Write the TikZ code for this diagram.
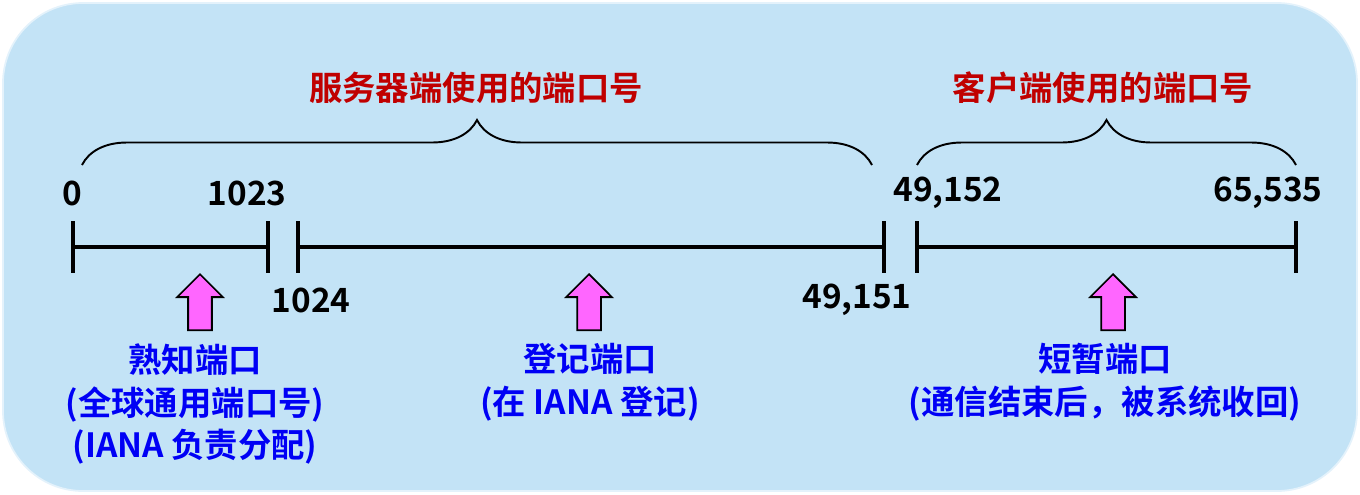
\documentclass[tikz,border=0pt]{standalone}
\usepackage{fontspec}
\setmainfont{Noto Sans CJK SC}[BoldFont={Noto Sans CJK SC Bold}]
\usetikzlibrary{positioning}
\usetikzlibrary{shapes.arrows}
\usetikzlibrary{decorations.pathreplacing}
\definecolor{bgblue}{RGB}{195,227,246}
\definecolor{titlered}{RGB}{192,0,0}
\definecolor{labelblue}{RGB}{0,0,245}
\definecolor{arrowpink}{RGB}{255,102,255}
\tikzset{portline/.style = {line width=2.3pt},
         portnum/.style = {font=\bfseries\fontsize{19}{23}\selectfont, inner sep=0pt},
         rangetitle/.style = {font=\bfseries\fontsize{19}{23}\selectfont, text=titlered, inner sep=0pt},
         rangebrace/.style = {decorate, decoration={brace, amplitude=0.9cm}, line width=1.1pt},
         portlabel/.style = {font=\bfseries\fontsize{19}{24.4}\selectfont, text=labelblue,
                             align=center, anchor=north, inner sep=0pt},
         uparrow/.style = {single arrow, draw=black, fill=arrowpink, line width=1pt,
                           rotate=90, anchor=tip, inner xsep=0pt, inner ysep=0.22cm,
                           minimum height=1.12cm, minimum width=0pt,
                           single arrow head extend=0.22cm}}

\begin{document}
\begin{tikzpicture}[x=0.02cm, y=-0.02cm]
    \useasboundingbox (0,0) rectangle (1360,494);
    \draw [fill=bgblue, draw=white!55!bgblue, line width=1pt, rounded corners=1.6cm]
        (3,3) rectangle (1357,491);

    % port ranges on the line
    \coordinate (wkstart) at (73,247);
    \coordinate (wkend) at (268,247);
    \coordinate (regstart) at (298,247);
    \coordinate (regend) at (884,247);
    \coordinate (ephstart) at (917,247);
    \coordinate (ephend) at (1296,247);
    \draw [portline] (wkstart) -- (wkend);
    \draw [portline] (regstart) -- (regend);
    \draw [portline] (ephstart) -- (ephend);
    \foreach \p in {wkstart, wkend, regstart, regend, ephstart, ephend}
        \draw [portline] ([yshift=0.52cm]\p) -- ([yshift=-0.52cm]\p);

    \node [portnum] (n0) at (72,193) {0};
    \node [portnum] (n1023) at (247,193) {1023};
    \node [portnum] (n1024) at (311,300) {1024};
    \node [portnum] (n49151) at (857,300) {49,151};
    \node [portnum] (n49152) at (948,193) {49,152};
    \node [portnum] (n65535) at (1268,193) {65,535};

    % braces and titles
    \coordinate (srvleft) at (82,165);
    \coordinate (srvright) at (872,165);
    \coordinate (cltleft) at (917,165);
    \coordinate (cltright) at (1296,165);
    \draw [rangebrace] (srvleft) -- (srvright);
    \draw [rangebrace] (cltleft) -- (cltright);
    \node [rangetitle] (srvtitle) at (476,88) {服务器端使用的端口号};
    \node [rangetitle] (clttitle) at (1103,88) {客户端使用的端口号};

    % arrows and labels
    \node [uparrow] (wkarrow) at (200,273) {};
    \node [uparrow] (regarrow) at (589,273) {};
    \node [uparrow] (epharrow) at (1113,273) {};
    \node [portlabel] (wklabel) at (195,343) {熟知端口\\(全球通用端口号)\\(IANA 负责分配)};
    \node [portlabel] (reglabel) at (590,343) {登记端口\\(在 IANA 登记)};
    \node [portlabel] (ephlabel) at (1105,343) {短暂端口\\(通信结束后，被系统收回)};
\end{tikzpicture}
\end{document}
